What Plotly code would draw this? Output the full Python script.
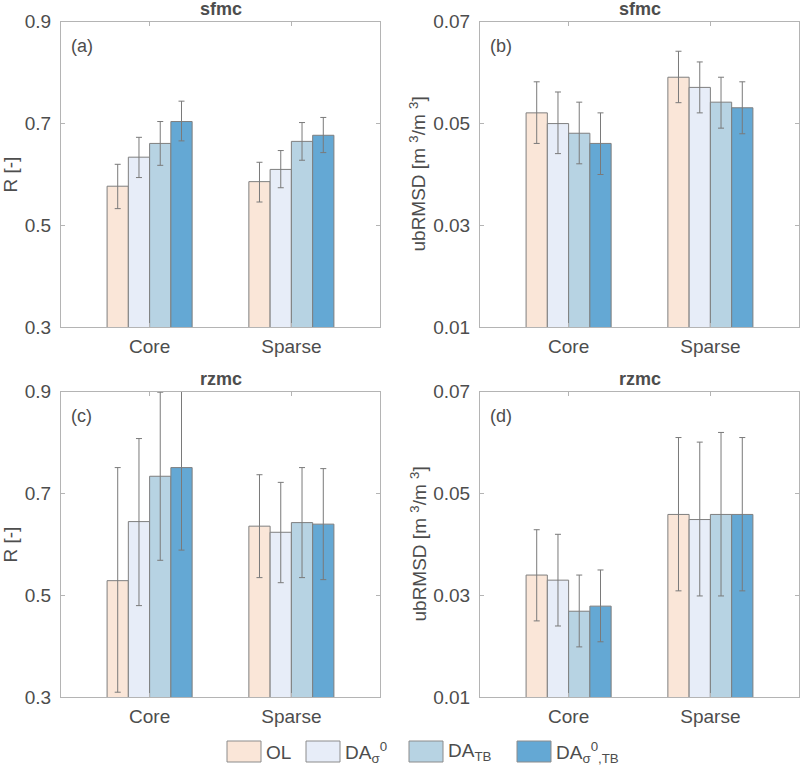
import plotly.graph_objects as go

W, H = 800, 767

groups = ["Core", "Sparse"]
group_pos = [1, 2]
series_names = ["OL", "DA<sub>σ</sub><sup>0</sup>", "DA<sub>TB</sub>", "DA<sub>σ</sub><sup>0</sup><sub>,TB</sub>"]
series_colors = ["#FAE6D8", "#E7EDF8", "#B7D3E3", "#64A8D4"]

# (a) sfmc R: rows = series, cols = groups
a_mean = [[0.577, 0.586], [0.634, 0.610], [0.661, 0.665], [0.704, 0.677]]
a_upper = [[0.620, 0.624], [0.673, 0.647], [0.704, 0.702], [0.744, 0.712]]
a_lower = [[0.533, 0.546], [0.594, 0.574], [0.618, 0.628], [0.666, 0.643]]

# (b) sfmc ubRMSD
b_mean = [[0.0521, 0.0591], [0.0500, 0.0571], [0.0481, 0.0542], [0.0461, 0.0531]]
b_upper = [[0.0582, 0.0642], [0.0562, 0.0621], [0.0542, 0.0591], [0.0521, 0.0582]]
b_lower = [[0.0461, 0.0541], [0.0441, 0.0521], [0.0421, 0.0491], [0.0400, 0.0480]]

# (c) rzmc R
c_mean = [[0.529, 0.636], [0.645, 0.624], [0.734, 0.643], [0.751, 0.640]]
c_upper = [[0.751, 0.737], [0.808, 0.722], [0.899, 0.751], [0.913, 0.749]]
c_lower = [[0.310, 0.535], [0.480, 0.525], [0.569, 0.535], [0.589, 0.531]]

# (d) rzmc ubRMSD
d_mean = [[0.0340, 0.0459], [0.0330, 0.0449], [0.0269, 0.0459], [0.0279, 0.0459]]
d_upper = [[0.0429, 0.0610], [0.0420, 0.0601], [0.0340, 0.0620], [0.0350, 0.0610]]
d_lower = [[0.0250, 0.0309], [0.0240, 0.0299], [0.0199, 0.0299], [0.0209, 0.0309]]

r_ticks = [0.3, 0.5, 0.7, 0.9]
rmsd_ticks = [0.01, 0.03, 0.05, 0.07]

panel_titles = ["sfmc", "sfmc", "rzmc", "rzmc"]
panel_labels = ["(a)", "(b)", "(c)", "(d)"]
y_titles = ["R [-]", "ubRMSD [m <sup>3</sup>/m <sup>3</sup>]", "R [-]", "ubRMSD [m <sup>3</sup>/m <sup>3</sup>]"]

TXT = "#4d4d4d"
AX = "#b4b4b4"
FONT = "Liberation Sans, Arial, Helvetica, sans-serif"

def px(x):
    return x / W

def py(y):
    return 1 - y / H

# panel pixel boxes (left, right, top, bottom)
boxes = [(61, 380, 21.7, 327.3), (480, 799, 21.7, 327.3),
         (61, 380, 391.7, 697.3), (480, 799, 391.7, 697.3)]

panels = [
    (a_mean, a_upper, a_lower, r_ticks),
    (b_mean, b_upper, b_lower, rmsd_ticks),
    (c_mean, c_upper, c_lower, r_ticks),
    (d_mean, d_upper, d_lower, rmsd_ticks),
]

fig = go.Figure()
layout = {}
annotations = []

for p, (mean, upper, lower, ticks) in enumerate(panels):
    k = "" if p == 0 else str(p + 1)
    for s in range(4):
        err_hi = [u - m for u, m in zip(upper[s], mean[s])]
        err_lo = [m - l for m, l in zip(mean[s], lower[s])]
        fig.add_trace(go.Bar(
            x=group_pos, y=mean[s], name=series_names[s],
            xaxis="x" + k, yaxis="y" + k,
            offsetgroup=str(s),
            marker=dict(color=series_colors[s], line=dict(color="#7f7f7f", width=1)),
            error_y=dict(type="data", symmetric=False, array=err_hi, arrayminus=err_lo,
                         color="#7a7a7a", thickness=1, width=3),
            showlegend=False,
        ))
    l, r, t, b = boxes[p]
    layout["xaxis" + k] = dict(
        domain=[px(l), px(r)], anchor="y" + k, range=[0.375, 2.625],
        tickvals=group_pos, ticktext=groups, showline=True, linecolor=AX, linewidth=1,
        mirror="ticks", ticks="inside", ticklen=4, tickcolor=AX, showgrid=False,
        zeroline=False, tickfont=dict(size=19, color=TXT, family=FONT), automargin=False,
        ticklabelstandoff=2,
    )
    layout["yaxis" + k] = dict(
        domain=[py(b), py(t)], anchor="x" + k, range=[ticks[0], ticks[-1]],
        tickvals=ticks, ticktext=[str(v) for v in ticks], showline=True, linecolor=AX,
        linewidth=1, mirror="ticks", ticks="inside", ticklen=4, tickcolor=AX,
        showgrid=False, zeroline=False, tickfont=dict(size=19, color=TXT, family=FONT),
        automargin=False, ticklabelstandoff=5,
    )
    cx = (l + r) / 2
    annotations.append(dict(x=px(cx), y=py(t - 13), xref="paper", yref="paper",
                            text="<b>" + panel_titles[p] + "</b>", showarrow=False,
                            font=dict(size=18, color=TXT, family=FONT),
                            xanchor="center", yanchor="middle"))
    annotations.append(dict(x=px(l + 8), y=py(t + 24), xref="paper", yref="paper",
                            text=panel_labels[p], showarrow=False,
                            font=dict(size=18, color=TXT, family=FONT),
                            xanchor="left", yanchor="middle"))
    annotations.append(dict(x=px(l - 51 if p % 2 == 0 else l - 62), y=py((t + b) / 2),
                            xref="paper", yref="paper", text=y_titles[p], textangle=-90,
                            showarrow=False, font=dict(size=19, color=TXT, family=FONT),
                            xanchor="center", yanchor="middle"))

# manual legend (swatch + label) at the bottom
leg_x = [227, 306, 409, 517]
shapes = []
for s in range(4):
    x0 = leg_x[s]
    shapes.append(dict(type="rect", xref="paper", yref="paper",
                       x0=px(x0), x1=px(x0 + 34), y0=py(762), y1=py(741),
                       fillcolor=series_colors[s], line=dict(color="#8c8c8c", width=1)))
    annotations.append(dict(x=px(x0 + 37), y=py(752), xref="paper", yref="paper",
                            text=series_names[s], showarrow=False,
                            font=dict(size=19, color=TXT, family=FONT),
                            xanchor="left", yanchor="middle"))

fig.update_layout(
    width=W, height=H, margin=dict(l=0, r=0, t=0, b=0),
    paper_bgcolor="white", plot_bgcolor="white",
    barmode="group", bargap=0.4, bargroupgap=0,
    annotations=annotations, shapes=shapes, showlegend=False,
    font=dict(family=FONT, color=TXT),
    **layout,
)

fig.write_html("out.html", config={"displayModeBar": False},
               post_script="document.body.style.margin='0';document.body.style.overflow='hidden';")
